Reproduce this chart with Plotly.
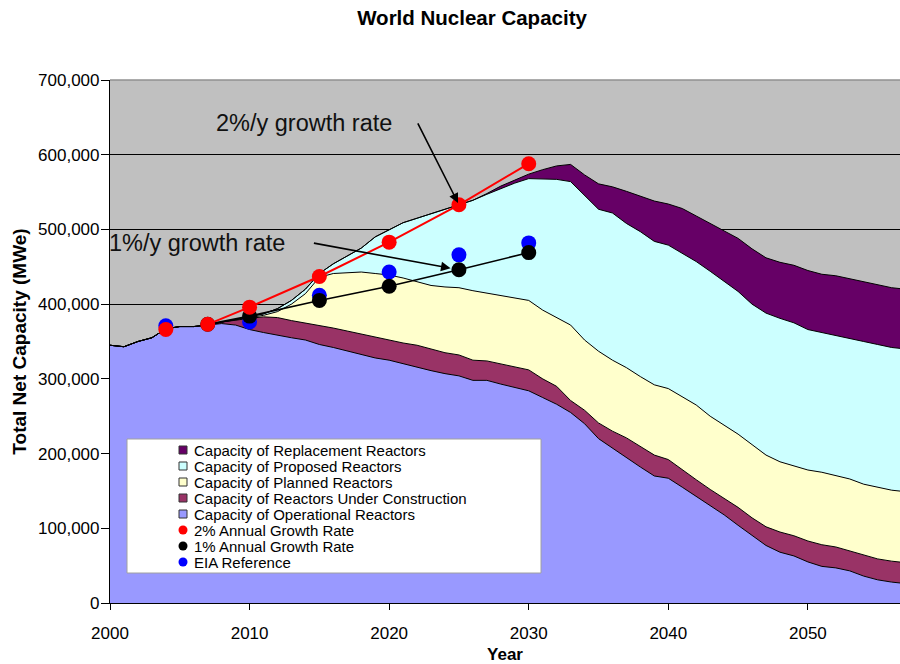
import plotly.graph_objects as go

# ---------------- data (MWe, thousands) ----------------
years = list(range(2000, 2058))

operational = [345, 343, 350, 355, 367, 370, 370, 372, 374, 372,
               366, 362, 358, 355, 352, 346, 342, 337, 333, 328,
               325, 320, 315, 311, 307, 304, 298, 298, 293, 289,
               284, 275, 266, 255, 240, 220, 207, 195, 182, 170,
               167, 155, 143, 130, 118, 104, 90, 77, 68, 63,
               55, 49, 47, 43, 36, 31, 28, 26]
construction = [0, 0, 0, 0, 0, 0, 0, 0, 2, 7,
                15, 21, 24, 23, 23, 26, 26, 27, 27, 27,
                27, 28, 30, 29, 28, 28, 27, 26, 27, 27,
                28, 25, 24, 16, 18, 21, 23, 26, 27, 28,
                25, 23, 22, 22, 22, 24, 24, 25, 27, 27,
                28, 29, 28, 27, 28, 28, 28, 28]
planned = [0, 0, 0, 0, 0, 0, 0, 0, 0, 0,
           1, 2, 8, 22, 39, 64, 73, 78, 83, 86,
           87, 87, 85, 85, 88, 90, 93, 91, 92, 93,
           93, 92, 92, 101, 94, 96, 95, 94, 94, 94,
           95, 98, 100, 98, 98, 98, 98, 96, 94, 94,
           95, 97, 95, 96, 95, 96, 95, 95]
proposed = [0, 0, 0, 0, 0, 0, 0, 0, 0, 1,
            1, 2, 4, 5, 6, 5, 13, 23, 32, 49,
            61, 74, 85, 96, 104, 111, 121, 132, 143, 153,
            163, 176, 185, 192, 193, 190, 197, 193, 194, 192,
            192, 192, 192, 194, 192, 191, 188, 190, 192, 191,
            188, 187, 189, 189, 191, 191, 191, 191]
replacement = [0, 0, 0, 0, 0, 0, 0, 0, 0, 0,
               0, 0, 0, 0, 0, 0, 0, 0, 0, 0,
               0, 0, 0, 0, 0, 0, 0, 1, 3, 4,
               6, 12, 18, 23, 28, 34, 35, 43, 48, 54,
               55, 60, 61, 64, 68, 71, 74, 74, 75, 77,
               79, 78, 79, 79, 79, 79, 80, 80]

growth2_years = [2004, 2007, 2010, 2015, 2020, 2025, 2030]
growth2_vals = [366, 373, 396, 437, 483, 533, 588]
growth1_years = [2007, 2010, 2015, 2020, 2025, 2030]
growth1_vals = [373, 384, 405, 424, 446, 469]
eia_years = [2004, 2010, 2015, 2020, 2025, 2030]
eia_vals = [371, 376, 412, 443, 466, 482]

area_names = ["Capacity of Operational Reactors",
              "Capacity of Reactors Under Construction",
              "Capacity of Planned Reactors",
              "Capacity of Proposed Reactors",
              "Capacity of Replacement Reactors"]
area_colors = ["#9999FF", "#993366", "#FFFFCC", "#CCFFFF", "#660066"]
area_series = [operational, construction, planned, proposed, replacement]

point_names = ["2% Annual Growth Rate", "1% Annual Growth Rate", "EIA Reference"]
point_colors = ["#FF0000", "#000000", "#0000FF"]

K = 1000
FONT = "Liberation Sans, Arial, sans-serif"

fig = go.Figure()

for name, color, vals in zip(area_names, area_colors, area_series):
    fig.add_trace(go.Scatter(
        x=years, y=[v * K for v in vals], name=name, mode="lines",
        stackgroup="cap", fillcolor=color,
        line=dict(color="#000000", width=1), showlegend=False))

# EIA reference (drawn first so black/red sit on top)
fig.add_trace(go.Scatter(
    x=eia_years, y=[v * K for v in eia_vals], name=point_names[2],
    mode="markers", marker=dict(color=point_colors[2], size=15),
    showlegend=False))
# 1% growth
fig.add_trace(go.Scatter(
    x=growth1_years, y=[v * K for v in growth1_vals], name=point_names[1],
    mode="lines+markers", line=dict(color="#000000", width=1.6),
    marker=dict(color=point_colors[1], size=15), showlegend=False))
# 2% growth line (from 2007) and markers
fig.add_trace(go.Scatter(
    x=growth2_years[1:], y=[v * K for v in growth2_vals[1:]], name=point_names[0],
    mode="lines", line=dict(color="#FF0000", width=2), showlegend=False))
fig.add_trace(go.Scatter(
    x=growth2_years, y=[v * K for v in growth2_vals], name=point_names[0],
    mode="markers", marker=dict(color=point_colors[0], size=15),
    showlegend=False))

# ---------------- layout geometry ----------------
W, H = 900, 664
L, R, T, B = 110, 0, 80, 61
PW, PH = W - L - R, H - T - B


def px(xp):
    return (xp - L) / PW


def py(yp):
    return (H - B - yp) / PH


shapes = []
annotations = []

# manual legend box
shapes.append(dict(type="rect", xref="paper", yref="paper",
                   x0=px(127), x1=px(541), y0=py(573), y1=py(439),
                   fillcolor="white", line=dict(color="#A0A0A0", width=1),
                   layer="above"))
legend_items = [(area_names[4], area_colors[4], "sq"),
                (area_names[3], area_colors[3], "sq"),
                (area_names[2], area_colors[2], "sq"),
                (area_names[1], area_colors[1], "sq"),
                (area_names[0], area_colors[0], "sq"),
                (point_names[0], point_colors[0], "dot"),
                (point_names[1], point_colors[1], "dot"),
                (point_names[2], point_colors[2], "dot")]
for i, (name, color, kind) in enumerate(legend_items):
    cy = 450 + 16 * i
    if kind == "sq":
        shapes.append(dict(type="rect", xref="paper", yref="paper",
                           x0=px(179), x1=px(187), y0=py(cy + 4), y1=py(cy - 4),
                           fillcolor=color, line=dict(color="#333333", width=1),
                           layer="above"))
    else:
        shapes.append(dict(type="circle", xref="paper", yref="paper",
                           x0=px(178.5), x1=px(187.5), y0=py(cy + 4.5), y1=py(cy - 4.5),
                           fillcolor=color, line=dict(color=color, width=0),
                           layer="above"))
    annotations.append(dict(xref="paper", yref="paper", x=px(192), y=py(cy + 0.5),
                            text=name, showarrow=False, xanchor="left", yanchor="middle",
                            font=dict(family=FONT, size=15, color="#000000")))

# top border
shapes.append(dict(type="line", xref="paper", yref="paper", x0=0, x1=1, y0=1, y1=1,
                   line=dict(color="#909090", width=1.5), layer="above"))

# growth-rate callouts
annotations.append(dict(x=2013.9, y=643000, text="2%/y growth rate", showarrow=False,
                        font=dict(family=FONT, size=23.5, color="#111111")))
annotations.append(dict(x=2006.2, y=482000, text="1%/y growth rate", showarrow=False,
                        font=dict(family=FONT, size=23.5, color="#111111")))
annotations.append(dict(x=2025, y=533000, ax=2022.0, ay=644000, axref="x", ayref="y",
                        text="", showarrow=True, arrowhead=2, arrowsize=1.2,
                        arrowwidth=1.6, arrowcolor="#000000", standoff=2))
annotations.append(dict(x=2024.4, y=448000, ax=2014.5, ay=482000, axref="x", ayref="y",
                        text="", showarrow=True, arrowhead=2, arrowsize=1.2,
                        arrowwidth=1.6, arrowcolor="#000000", standoff=0))

fig.update_layout(
    width=W, height=H,
    margin=dict(l=L, r=R, t=T, b=B, pad=0),
    paper_bgcolor="white", plot_bgcolor="#C0C0C0",
    font=dict(family=FONT, size=17, color="#000000"),
    title=dict(text="<b>World Nuclear Capacity</b>", x=472 / W, xanchor="center",
               y=1 - 18 / H, yanchor="middle",
               font=dict(family=FONT, size=20.5, color="#000000")),
    showlegend=False,
    shapes=shapes, annotations=annotations,
    xaxis=dict(range=[2000, 2056.6], tickvals=[2000, 2010, 2020, 2030, 2040, 2050],
               showgrid=False, zeroline=False, showline=True, linecolor="#000000",
               linewidth=1.2, ticks="outside", ticklen=6, tickcolor="#000000",
               tickfont=dict(family=FONT, size=17), ticklabelstandoff=8,
               title=dict(text="<b>Year</b>", font=dict(family=FONT, size=17), standoff=8)),
    yaxis=dict(range=[0, 700000], tickvals=[i * 100000 for i in range(8)],
               tickformat=",d", showgrid=True, gridcolor="#000000", gridwidth=1,
               zeroline=False, showline=True, linecolor="#000000", linewidth=1.2,
               ticks="outside", ticklen=8, tickcolor="#000000",
               tickfont=dict(family=FONT, size=17), ticklabelstandoff=-2,
               title=dict(text="<b>Total Net Capacity (MWe)</b>",
                          font=dict(family=FONT, size=19), standoff=6)),
)

fig.write_html("out.html",
               config={"displayModeBar": False},
               post_script="document.body.style.margin='0px';"
                           "document.body.style.overflow='hidden';")
